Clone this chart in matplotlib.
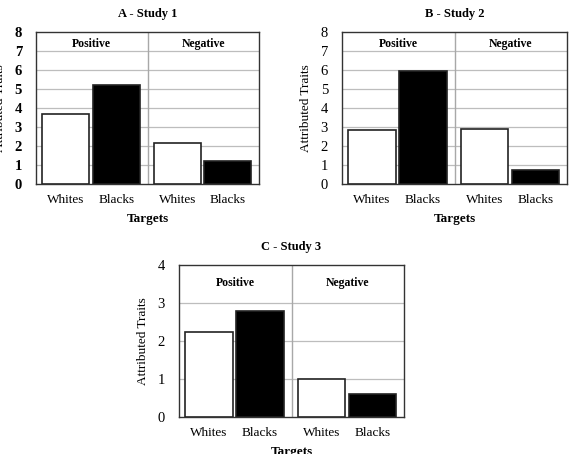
import numpy as np
import matplotlib
matplotlib.use("Agg")
import matplotlib.pyplot as plt

plt.rcParams["font.family"] = ["Liberation Serif", "DejaVu Serif"]

targets = ["Whites", "Blacks", "Whites", "Blacks"]
valences = ["Positive", "Negative"]

study1 = [3.7, 5.2, 2.15, 1.2]
study2 = [2.85, 5.95, 2.9, 0.75]
study3 = [2.25, 2.8, 1.0, 0.6]

titles = ["A - Study 1", "B - Study 2", "C - Study 3"]
ymaxs = [8, 8, 4]

W, H = 570, 454
fig = plt.figure(figsize=(W / 100, H / 100), dpi=100)

# axes boxes in pixels: left, top, right, bottom
boxes = [(36, 32, 259, 184), (342, 32, 567, 184), (179, 265, 404, 417)]


def panel(box, vals, title, ymax, bold_ticks=False):
    l, t, r, b = box
    ax = fig.add_axes([l / W, 1 - b / H, (r - l) / W, (b - t) / H])
    x = np.array([0.535, 1.44, 2.535, 3.44])
    colors = ["white", "black", "white", "black"]
    ax.bar(x, vals, width=0.84, color=colors, edgecolor="#222222",
           linewidth=1.2, zorder=3)
    ax.set_xlim(0, 4)
    ax.set_ylim(0, ymax)
    ax.set_yticks(range(0, ymax + 1))
    for yv in range(1, ymax):
        ax.axhline(yv, color="#bdbdbd", linewidth=0.9, zorder=1)
    ax.axvline(2, color="#a8a8a8", linewidth=1.0, zorder=1)
    top_lab = ymax - (0.62 if ymax == 8 else 0.48)
    ax.text(1, top_lab, valences[0], ha="center", va="center",
            fontsize=8.5, fontweight="bold", zorder=4)
    ax.text(3, top_lab, valences[1], ha="center", va="center",
            fontsize=8.5, fontweight="bold", zorder=4)
    ax.set_xticks(x)
    ax.set_xticklabels(targets, fontsize=9.5)
    ax.tick_params(axis="x", length=0, pad=7)
    ax.tick_params(axis="y", length=0, pad=10, labelsize=10.5)
    if bold_ticks:
        for lab in ax.get_yticklabels():
            lab.set_fontweight("bold")
    for s in ax.spines.values():
        s.set_color("#333333")
        s.set_linewidth(1.0)
    ax.set_xlabel("Targets", fontsize=9.5, fontweight="bold", labelpad=5)
    ax.set_ylabel("Attributed Traits", fontsize=9.5, labelpad=6)
    ax.set_title(title, fontsize=9, fontweight="bold", pad=11)
    return ax


panel(boxes[0], study1, titles[0], ymaxs[0], bold_ticks=True)
panel(boxes[1], study2, titles[1], ymaxs[1])
panel(boxes[2], study3, titles[2], ymaxs[2])

fig.savefig("out.png", dpi=100, facecolor="white")
